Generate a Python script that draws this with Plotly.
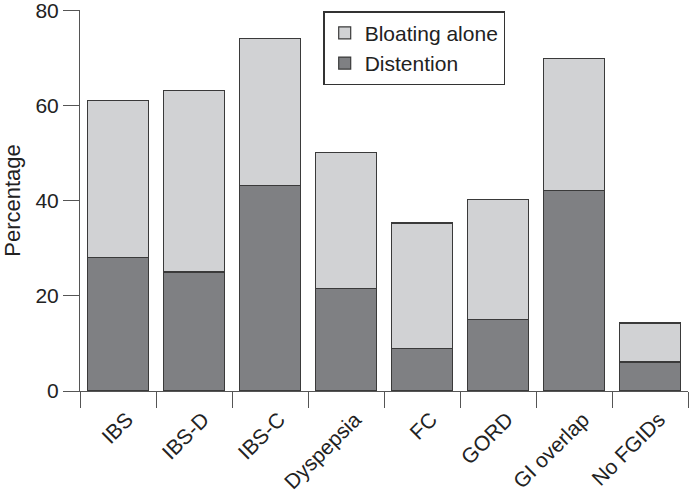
import plotly.graph_objects as go

categories = ["IBS", "IBS-D", "IBS-C", "Dyspepsia", "FC", "GORD", "GI overlap", "No FGIDs"]
distention = [28.0, 25.0, 43.2, 21.6, 9.0, 15.0, 42.2, 6.1]
bloating_alone = [33.1, 38.1, 30.9, 28.5, 26.3, 25.3, 27.7, 8.2]
y_ticks = [0, 20, 40, 60, 80]

FONT = "Liberation Sans, Arial, Helvetica, sans-serif"

fig = go.Figure()
fig.add_trace(go.Bar(
    x=categories, y=distention, name="Distention",
    marker=dict(color="#7f8083", line=dict(color="#3a3a3a", width=1.2)),
    width=0.8,
))
fig.add_trace(go.Bar(
    x=categories, y=bloating_alone, name="Bloating alone",
    marker=dict(color="#d1d2d4", line=dict(color="#3a3a3a", width=1.2)),
    width=0.8,
))

fig.update_layout(
    width=693, height=497,
    barmode="stack",
    paper_bgcolor="white", plot_bgcolor="white",
    margin=dict(l=80, r=5, t=10, b=106, autoexpand=False),
    font=dict(family=FONT, size=22, color="#222222"),
    showlegend=True,
    legend=dict(
        x=0.40, y=0.997, xanchor="left", yanchor="top",
        traceorder="reversed",
        bgcolor="white", bordercolor="#333333", borderwidth=1.5,
        font=dict(family=FONT, size=21, color="#222222"),
        itemwidth=30, tracegroupgap=0,
    ),
    xaxis=dict(
        type="category",
        range=[-0.5, 7.5],
        automargin=False,
        showline=True, linecolor="#555555", linewidth=1,
        ticks="outside", tickson="boundaries", ticklen=16, tickcolor="#555555", tickwidth=1,
        tickangle=-45,
        ticklabelstandoff=7,
        ticklabelshift=9,
        tickfont=dict(family=FONT, size=21, color="#222222"),
        showgrid=False, zeroline=False,
    ),
    yaxis=dict(
        range=[0, 80.05],
        automargin=False,
        tickvals=y_ticks,
        ticklabeloverflow="allow",
        showline=True, linecolor="#555555", linewidth=1,
        ticks="outside", ticklen=16, tickcolor="#555555", tickwidth=1,
        tickfont=dict(family=FONT, size=21, color="#222222"),
        title=dict(text="Percentage", font=dict(family=FONT, size=22, color="#222222"), standoff=10),
        showgrid=False, zeroline=False,
    ),
)

fig.write_html(
    "out.html",
    config={"displayModeBar": False},
    post_script="document.body.style.margin='0';document.body.style.padding='0';",
)
